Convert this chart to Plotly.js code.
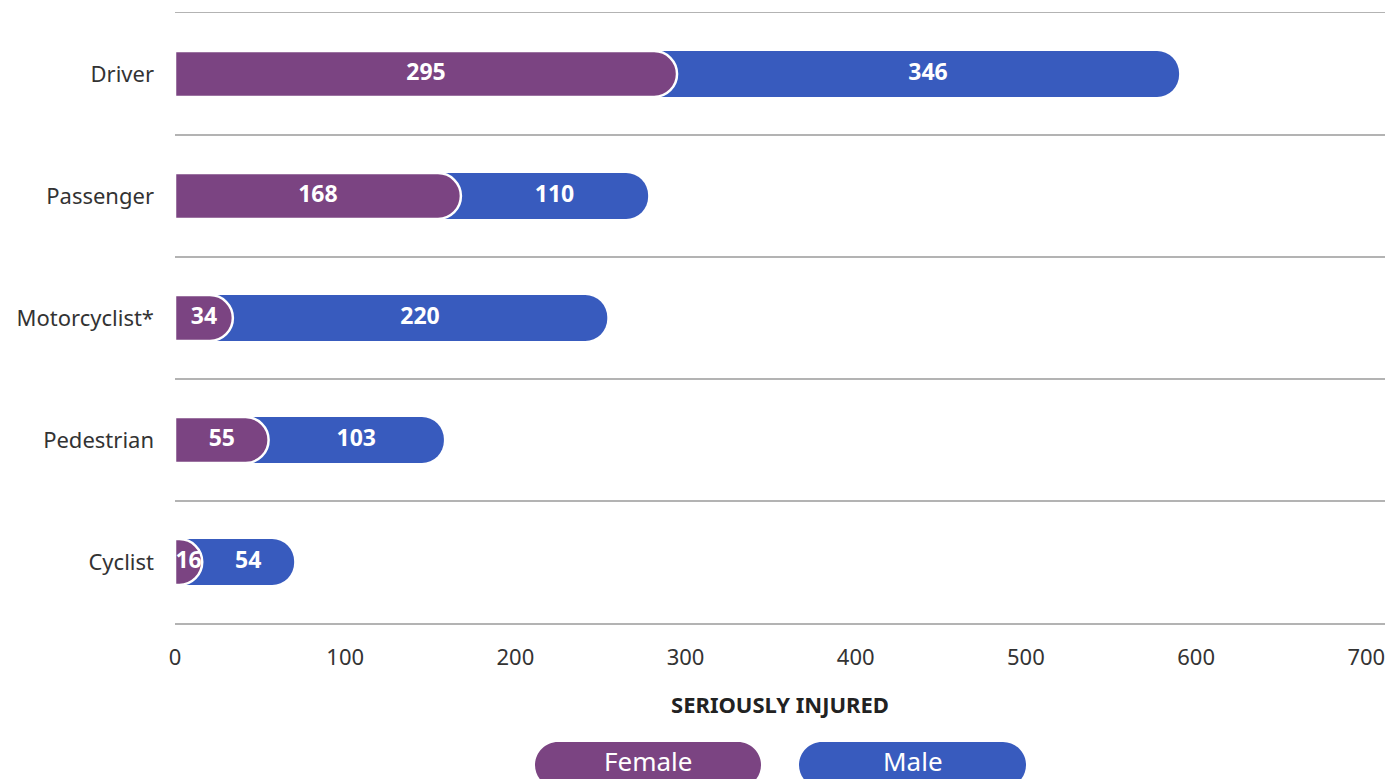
<!DOCTYPE html>
<html>
<head>
<meta charset="utf-8">
<script src="https://cdn.plot.ly/plotly-3.0.1.min.js"></script>
<style>html,body{margin:0;padding:0;background:#fff;}#chart{width:1385px;height:779px;}</style>
</head>
<body>
<div id="chart"></div>
<script>
// ---- data ----
const categories = ['Driver', 'Passenger', 'Motorcyclist*', 'Pedestrian', 'Cyclist'];
const femaleValues = [295, 168, 34, 55, 16];
const maleLabels = [346, 110, 220, 103, 54];
// male bar lengths as drawn in the reference (Driver bar is drawn shorter than its label)
const maleBarLengths = [295, 110, 220, 103, 54];
const xTickValues = [0, 100, 200, 300, 400, 500, 600, 700];
const seriesNames = ['Female', 'Male'];

const PURPLE = '#7B4482';
const BLUE = '#385BBE';
const FONT = 'Noto Sans, Open Sans, sans-serif';

const totals = femaleValues.map((f, i) => f + maleBarLengths[i]);
const femaleLabelX = femaleValues.map(f => f / 2);
const maleLabelX = femaleValues.map((f, i) => f + maleBarLengths[i] / 2);

const traces = [
  {
    type: 'bar', orientation: 'h', name: seriesNames[1],
    y: categories, x: totals, yaxis: 'y',
    marker: { color: BLUE, cornerradius: '50%', line: { width: 0 } },
    hoverinfo: 'skip', showlegend: false
  },
  {
    type: 'bar', orientation: 'h', name: seriesNames[0],
    y: categories, x: femaleValues, yaxis: 'y2',
    marker: { color: PURPLE, cornerradius: '50%', line: { color: '#ffffff', width: 2.5 } },
    hoverinfo: 'skip', showlegend: false
  },
  {
    type: 'scatter', mode: 'text', y: categories, x: femaleLabelX, yaxis: 'y2',
    text: femaleValues.map(String),
    textfont: { family: FONT, size: 23, color: '#ffffff', weight: 'bold' },
    hoverinfo: 'skip', showlegend: false, cliponaxis: false
  },
  {
    type: 'scatter', mode: 'text', y: categories, x: maleLabelX, yaxis: 'y2',
    text: maleLabels.map(String),
    textfont: { family: FONT, size: 23, color: '#ffffff', weight: 'bold' },
    hoverinfo: 'skip', showlegend: false, cliponaxis: false
  }
];

// plot-area geometry (pixels) used to place the pill legend
const ML = 175, MR = 0, MT = 13, MB = 156, W = 1385, H = 779;
const PW = W - ML - MR, PH = H - MT - MB;
const px2x = px => (px - ML) / PW;
const py2y = py => (H - MB - py) / PH;

function pillPath(x0, x1, y0, y1, r) {
  const k = 0.5523 * r;
  const P = (x, y) => px2x(x).toFixed(5) + ',' + py2y(y).toFixed(5);
  return 'M' + P(x0 + r, y0) +
    ' L' + P(x1 - r, y0) +
    ' C' + P(x1 - r + k, y0) + ' ' + P(x1, y0 + r - k) + ' ' + P(x1, y0 + r) +
    ' L' + P(x1, y1 - r) +
    ' C' + P(x1, y1 - r + k) + ' ' + P(x1 - r + k, y1) + ' ' + P(x1 - r, y1) +
    ' L' + P(x0 + r, y1) +
    ' C' + P(x0 + r - k, y1) + ' ' + P(x0, y1 - r + k) + ' ' + P(x0, y1 - r) +
    ' L' + P(x0, y0 + r) +
    ' C' + P(x0, y0 + r - k) + ' ' + P(x0 + r - k, y0) + ' ' + P(x0 + r, y0) + ' Z';
}

const pills = [
  { name: seriesNames[0], color: PURPLE, x0: 535, x1: 761 },
  { name: seriesNames[1], color: BLUE, x0: 799, x1: 1026 }
];
const shapes = pills.map(p => ({
  type: 'path', xref: 'paper', yref: 'paper',
  path: pillPath(p.x0, p.x1, 742, 788, 23),
  fillcolor: p.color, line: { width: 0 }, layer: 'above'
}));
const annotations = pills.map(p => ({
  xref: 'paper', yref: 'paper',
  x: px2x((p.x0 + p.x1) / 2), y: py2y(761),
  xanchor: 'center', yanchor: 'middle',
  text: p.name, showarrow: false,
  font: { family: FONT, size: 26, color: '#ffffff' }
}));

const yBase = {
  type: 'category', categoryorder: 'array', categoryarray: categories,
  range: [4.5, -0.5], fixedrange: true, automargin: false
};

const layout = {
  width: W, height: H,
  margin: { l: ML, r: MR, t: MT, b: MB, pad: 0 },
  paper_bgcolor: '#ffffff', plot_bgcolor: '#ffffff',
  barmode: 'overlay', bargap: 0.624,
  showlegend: false,
  font: { family: FONT, color: '#333333' },
  xaxis: {
    range: [0, 711], tickvals: xTickValues, ticktext: xTickValues.map(String),
    showgrid: false, zeroline: false,
    showline: true, mirror: true, linecolor: '#b3b3b3', linewidth: 1.5,
    ticks: '', ticklabelstandoff: 14, ticklabeloverflow: 'allow',
    tickfont: { family: FONT, size: 22, color: '#333333' },
    title: { text: 'SERIOUSLY INJURED', standoff: 27,
      font: { family: FONT, size: 22, color: '#222222', weight: 'bold' } },
    automargin: false, fixedrange: true
  },
  yaxis: Object.assign({}, yBase, {
    tickson: 'boundaries',
    showgrid: true, gridcolor: '#b3b3b3', gridwidth: 1.5,
    zeroline: false, showline: false, ticks: '', ticklabelstandoff: 20,
    tickfont: { family: FONT, size: 22, color: '#333333' }
  }),
  yaxis2: Object.assign({}, yBase, {
    overlaying: 'y', side: 'left',
    showgrid: false, zeroline: false, showline: false, ticks: '',
    showticklabels: false
  }),
  shapes: shapes,
  annotations: annotations
};

Plotly.newPlot('chart', traces, layout, { displayModeBar: false, staticPlot: true });
</script>
</body>
</html>
